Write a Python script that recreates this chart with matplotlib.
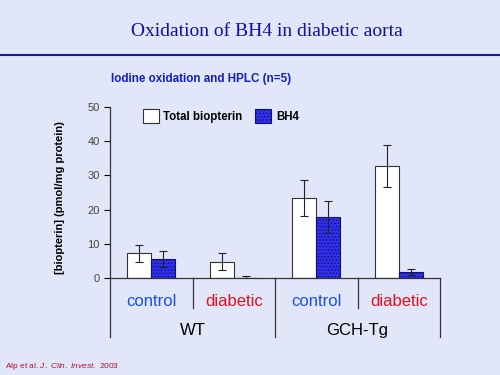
import numpy as np
import matplotlib.pyplot as plt
from matplotlib.lines import Line2D

plt.rcParams['font.family'] = ['Liberation Sans', 'DejaVu Sans']
plt.rcParams['mathtext.fontset'] = 'custom'
plt.rcParams['mathtext.it'] = 'Liberation Sans:italic'
plt.rcParams['mathtext.rm'] = 'Liberation Sans'
plt.rcParams['hatch.linewidth'] = 0.6

groups = ["WT", "GCH-Tg"]
conditions = ["control", "diabetic", "control", "diabetic"]
cond_colors = ["#1a4fe0", "#e01020", "#1a4fe0", "#e01020"]
total = [7.2, 4.8, 23.4, 32.7]
total_err = [2.4, 2.6, 5.3, 6.1]
bh4 = [5.5, 0.1, 17.8, 1.8]
bh4_err = [2.3, 0.6, 4.6, 0.9]

bg = '#e1e6f8'
fig = plt.figure(figsize=(5, 3.75), dpi=100, facecolor=bg)
ax = fig.add_axes([0.22, 0.2587, 0.66, 0.456])
ax.set_facecolor(bg)

x = np.arange(len(conditions)) + 0.5
w = 0.29
ax.bar(x - w / 2, total, w, color='white', edgecolor='#333333', linewidth=0.8,
       label='Total biopterin', zorder=2)
ax.bar(x + w / 2, bh4, w, color='#3030ec', edgecolor='#101070', linewidth=0.8,
       hatch='.....', label='BH4', zorder=2)
ax.errorbar(x - w / 2, total, yerr=total_err, fmt='none', ecolor='#222222',
            elinewidth=0.8, capsize=3, capthick=0.8, zorder=3)
ax.errorbar(x + w / 2, bh4, yerr=bh4_err, fmt='none', ecolor='#222222',
            elinewidth=0.8, capsize=3, capthick=0.8, zorder=3)

ax.set_xlim(0, 4)
ax.set_ylim(0, 50)
ax.set_yticks([0, 10, 20, 30, 40, 50])
ax.tick_params(axis='y', labelsize=8, labelcolor='#444444', length=4, width=0.8)
ax.set_xticks([])
for s in ['top', 'right']:
    ax.spines[s].set_visible(False)
for s in ['left', 'bottom']:
    ax.spines[s].set_color('#333333')
    ax.spines[s].set_linewidth(0.9)

ax.set_ylabel('[biopterin] (pmol/mg protein)', fontsize=8, fontweight='bold')
ax.yaxis.set_label_coords(-0.136, 0.47)

# category separators under the axis
tr = ax.get_xaxis_transform()
for xs in [1, 3]:
    ax.add_line(Line2D([xs, xs], [0, -0.175], transform=tr, color='#333333',
                       lw=0.9, clip_on=False))
for xs in [0, 2, 4]:
    ax.add_line(Line2D([xs, xs], [0, -0.345], transform=tr, color='#333333',
                       lw=0.9, clip_on=False))
for xi, c, col in zip(x, conditions, cond_colors):
    ax.text(xi, -0.14, c, transform=tr, ha='center', va='center', fontsize=12,
            color=col)
for gi, g in enumerate(groups):
    ax.text(1 + 2 * gi, -0.31, g, transform=tr, ha='center', va='center',
            fontsize=12, color='black')

ax.legend(loc='center left', bbox_to_anchor=(0.085, 0.947), ncol=2, frameon=False,
          prop={'weight': 'bold', 'size': 8.3}, handlelength=1.4, handleheight=1.4,
          columnspacing=1.1, handletextpad=0.4, borderaxespad=0)

fig.text(0.533, 1 - 31 / 375, 'Oxidation of BH4 in diabetic aorta',
         family='Liberation Serif', fontsize=14, color='#1010a0',
         ha='center', va='center')
fig.add_artist(Line2D([0, 1], [1 - 55 / 375] * 2, transform=fig.transFigure,
                      color='#1a1a90', lw=1.5))
fig.text(0.222, 1 - 79 / 375, 'Iodine oxidation and HPLC (n=5)', fontsize=8.4,
         fontweight='bold', color='#1020c0', ha='left', va='center')
fig.text(0.01, 1 - 366 / 375, r'Alp et al. $\it{J.\ Clin.\ Invest.}$ 2003',
         fontsize=6, color='#b01030', ha='left', va='center')

fig.savefig('out.png', dpi=100, facecolor=bg)
